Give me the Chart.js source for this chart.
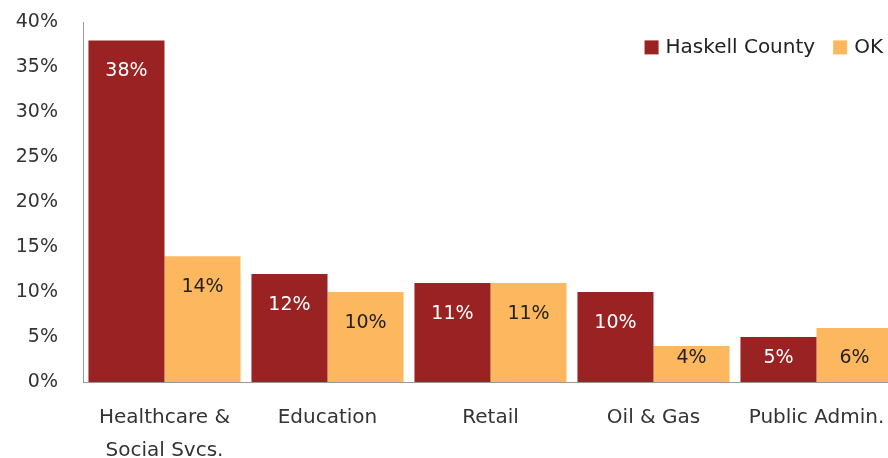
<!DOCTYPE html>
<html>
<head>
<meta charset="utf-8">
<script src="https://cdn.jsdelivr.net/npm/chart.js@4"></script>
<style>
  html, body { margin: 0; padding: 0; overflow: hidden; background: #fff; }
  #wrap { width: 898px; height: 484px; margin-top: -6px; }
</style>
</head>
<body>
<div id="wrap"><canvas id="chart"></canvas></div>
<script>
// Chart data
const categories = [['Healthcare &', 'Social Svcs.'], 'Education', 'Retail', 'Oil & Gas', 'Public Admin.'];
const haskellValues = [38, 12, 11, 10, 5];
const okValues = [14, 10, 11, 4, 6];

const RED = '#9B2222';
const ORANGE = '#FDB85F';
const FONT = '"DejaVu Sans"';

// Value labels inside the bars, near the top (kept inside short bars)
const barLabels = {
  id: 'barLabels',
  afterDatasetsDraw(chart) {
    const ctx = chart.ctx;
    ctx.save();
    ctx.font = '19px ' + FONT;
    ctx.textAlign = 'center';
    ctx.textBaseline = 'middle';
    chart.data.datasets.forEach((ds, i) => {
      const meta = chart.getDatasetMeta(i);
      meta.data.forEach((bar, j) => {
        ctx.fillStyle = i === 0 ? '#ffffff' : '#222222';
        const y = Math.min(bar.y + 31, bar.base - 24);
        ctx.fillText(ds.data[j] + '%', bar.x, y);
      });
    });
    ctx.restore();
  }
};

// Legend drawn in the top right corner of the plot
const cornerLegend = {
  id: 'cornerLegend',
  afterDraw(chart) {
    const ctx = chart.ctx;
    const area = chart.chartArea;
    ctx.save();
    ctx.font = '20px ' + FONT;
    ctx.textBaseline = 'middle';
    const y = area.top + 25;
    let x = area.right - 15;
    const items = chart.data.datasets.slice().reverse();
    items.forEach(ds => {
      const w = ctx.measureText(ds.label).width;
      x -= w;
      ctx.fillStyle = '#222222';
      ctx.fillText(ds.label, x, y);
      x -= 21;
      ctx.fillStyle = ds.backgroundColor;
      ctx.fillRect(x, y - 7, 14, 14);
      x -= 18;
    });
    ctx.restore();
  }
};

new Chart(document.getElementById('chart'), {
  type: 'bar',
  data: {
    labels: categories,
    datasets: [
      { label: 'Haskell County', data: haskellValues, backgroundColor: RED },
      { label: 'OK', data: okValues, backgroundColor: ORANGE }
    ]
  },
  options: {
    responsive: true,
    maintainAspectRatio: false,
    animation: false,
    layout: { padding: { top: 0, left: 12, right: 0, bottom: 0 } },
    datasets: { bar: { barPercentage: 1, categoryPercentage: 0.933 } },
    scales: {
      x: {
        grid: { display: false },
        border: { display: true, color: '#999999' },
        ticks: {
          color: '#333333',
          font: { family: 'DejaVu Sans', size: 20, lineHeight: 1.65 },
          padding: 11,
          maxRotation: 0
        }
      },
      y: {
        min: 0,
        max: 40,
        grid: { display: false },
        border: { display: true, color: '#999999' },
        afterFit: scale => { scale.width = 71; },
        ticks: {
          stepSize: 5,
          color: '#333333',
          padding: 17,
          font: { family: 'DejaVu Sans', size: 19 },
          callback: v => v + '%'
        }
      }
    },
    plugins: {
      legend: { display: false },
      tooltip: { enabled: false }
    }
  },
  plugins: [barLabels, cornerLegend]
});
</script>
</body>
</html>
